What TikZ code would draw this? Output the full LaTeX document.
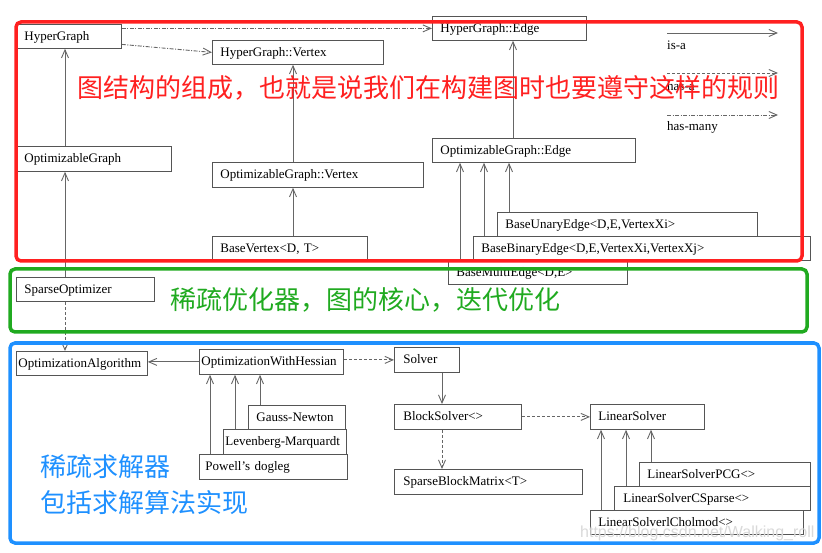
\documentclass[tikz,border=0pt]{standalone}
\usepackage{fontspec}
\setmainfont{Liberation Serif}
\newfontfamily\cjk{Noto Sans CJK SC}
\newfontfamily\wmfont{Liberation Sans}
\usetikzlibrary{arrows.meta}
\definecolor{boxc}{HTML}{555555}
\definecolor{linec}{HTML}{666666}
\definecolor{redc}{HTML}{FF2020}
\definecolor{greenc}{HTML}{20AA20}
\definecolor{bluec}{HTML}{1E90FF}
\tikzset{
  box/.style={draw=boxc, line width=0.8pt, fill=white, anchor=north west,
    inner xsep=8pt, inner ysep=0pt, minimum height=24pt, align=left,
    text height=10pt, text depth=2.5pt,
    font=\fontsize{13}{15}\selectfont},
  tight/.style={inner xsep=2pt},
  isa/.style={draw=linec, line width=0.9pt, -{Straight Barb[length=8pt,width=7pt]}},
  hasa/.style={isa, dash pattern=on 3pt off 2pt},
  hasmany/.style={isa, dash pattern=on 4pt off 1.5pt on 1pt off 1.5pt},
  frame/.style={line width=3.5pt, rounded corners=5pt},
  cjktext/.style={anchor=west, inner sep=0pt, font=\cjk\fontsize{26}{30}\selectfont},
  legend/.style={anchor=west, inner sep=0pt, font=\fontsize{13}{15}\selectfont}
}
\begin{document}
\begin{tikzpicture}[x=1pt,y=-1pt]
\useasboundingbox (0,0) rectangle (822,553);
% columns
\coordinate (xa) at (65,0);
\coordinate (xb) at (293,0);
\coordinate (xc) at (513,0);
\coordinate (xm) at (460,0);
\coordinate (xbi) at (484,0);
\coordinate (xu) at (509,0);
\coordinate (xp) at (210,0);
\coordinate (xl) at (235,0);
\coordinate (xg) at (260,0);
\coordinate (xs) at (442,0);
\coordinate (xch) at (601,0);
\coordinate (xcs) at (626,0);
\coordinate (xpc) at (651,0);

% nodes
\node[box, text width=89pt]  (hg)  at (16,24)  {HyperGraph};
\node[box, text width=155pt] (hgv) at (212,40) {HyperGraph::Vertex};
\node[box, text width=139pt, minimum height=25pt] (og) at (16,146) {OptimizableGraph};
\node[box, text width=195pt, minimum height=25pt] (ogv) at (212,162) {OptimizableGraph::Vertex};
\node[box, text width=139pt] (bv)  at (212,236) {BaseVertex<D, T>};
\node[box, text width=138pt] (hge) at (432,16)  {HyperGraph::Edge};
\node[box, text width=187pt] (oge) at (432,138) {OptimizableGraph::Edge};
\node[box, text width=244pt] (bue) at (497,212) {BaseUnaryEdge<D,E,VertexXi>};
\node[box, text width=321pt] (bbe) at (473,236) {BaseBinaryEdge<D,E,VertexXi,VertexXj>};
\node[box, text width=163pt] (bme) at (448,260) {BaseMultiEdge<D,E>};
\node[box, text width=122pt] (so)  at (16,277)  {SparseOptimizer};
\node[box, tight, text width=127pt] (oa) at (16,351) {OptimizationAlgorithm};
\node[box, tight, text width=140pt, minimum height=25pt] (owh) at (199,349) {OptimizationWithHessian};
\node[box, text width=81pt]  (gn)  at (248,405) {Gauss-Newton};
\node[box, tight, text width=119pt, minimum height=25pt] (lm) at (223,429) {Levenberg-Marquardt};
\node[box, inner xsep=6pt, text width=136pt, minimum height=25pt] (pd) at (199,454) {Powell's dogleg};
\node[box, inner xsep=9pt, text width=47pt, minimum height=25pt] (sol) at (394,347) {Solver};
\node[box, inner xsep=9pt, text width=109pt, minimum height=25pt] (bs) at (394,404) {BlockSolver<>};
\node[box, inner xsep=9pt, text width=170pt, minimum height=25pt] (sbm) at (394,469) {SparseBlockMatrix<T>};
\node[box, text width=98pt, minimum height=25pt] (ls) at (590,404) {LinearSolver};
\node[box, text width=155pt] (pcg) at (639,462) {LinearSolverPCG<>};
\node[box, inner xsep=9pt, text width=178pt] (csp) at (614,486) {LinearSolverCSparse<>};
\node[box, text width=197pt] (chol) at (590,510) {LinearSolverlCholmod<>};

% connectors
\draw[hasmany] (hg.east |- hge.west) -- (hge.west);
\draw[hasmany] ([yshift=-8pt]hg.east) -- (hgv.west);
\draw[isa] (og.north -| xa) -- (hg.south -| xa);
\draw[isa] (so.north -| xa) -- (og.south -| xa);
\draw[hasa] (so.south -| xa) -- (oa.north -| xa);
\draw[isa] (ogv.north -| xb) -- (hgv.south -| xb);
\draw[isa] (bv.north -| xb) -- (ogv.south -| xb);
\draw[isa] (oge.north -| xc) -- (hge.south -| xc);
\draw[isa] (bme.north -| xm) -- (oge.south -| xm);
\draw[isa] (bbe.north -| xbi) -- (oge.south -| xbi);
\draw[isa] (bue.north -| xu) -- (oge.south -| xu);
\draw[isa] (owh.west) -- (owh.west -| oa.east);
\draw[isa] (pd.north -| xp) -- (owh.south -| xp);
\draw[isa] (lm.north -| xl) -- (owh.south -| xl);
\draw[isa] (gn.north -| xg) -- (owh.south -| xg);
\draw[hasa] (owh.east |- sol.west) -- (sol.west);
\draw[isa] (sol.south -| xs) -- (bs.north -| xs);
\draw[hasa] (bs.south -| xs) -- (sbm.north -| xs);
\draw[hasa] (bs.east) -- (ls.west);
\draw[isa] (chol.north -| xch) -- (ls.south -| xch);
\draw[isa] (csp.north -| xcs) -- (ls.south -| xcs);
\draw[isa] (pcg.north -| xpc) -- (ls.south -| xpc);

% legend
\coordinate (l1a) at (667,33);  \coordinate (l1b) at (778,33);
\coordinate (l2a) at (667,73);  \coordinate (l2b) at (778,73);
\coordinate (l3a) at (667,115); \coordinate (l3b) at (778,115);
\draw[isa] (l1a) -- (l1b);
\draw[hasa] (l2a) -- (l2b);
\draw[hasmany] (l3a) -- (l3b);
\node[legend] (t1) at (667,45) {is-a};
\node[legend] (t2) at (667,86) {has-a};
\node[legend] (t3) at (667,127) {has-many};

% annotation frames
\draw[frame, draw=redc] (16,22) rectangle (802,261);
\draw[frame, draw=greenc] (10,269) rectangle (807,332);
\draw[frame, draw=bluec] (10,343) rectangle (819,543);
\node[cjktext, text=redc] (rt) at (77,88) {图结构的组成，也就是说我们在构建图时也要遵守这样的规则};
\node[cjktext, text=greenc] (gt) at (170,300) {稀疏优化器，图的核心，迭代优化};
\node[cjktext, text=bluec] (bt1) at (40,467) {稀疏求解器};
\node[cjktext, text=bluec] (bt2) at (40,503) {包括求解算法实现};
\node[anchor=west, inner sep=0pt, text=black!15, font=\wmfont\fontsize{16}{18}\selectfont] (wm) at (580,533) {https://blog.csdn.net/Walking\_roll};
\end{tikzpicture}
\end{document}
